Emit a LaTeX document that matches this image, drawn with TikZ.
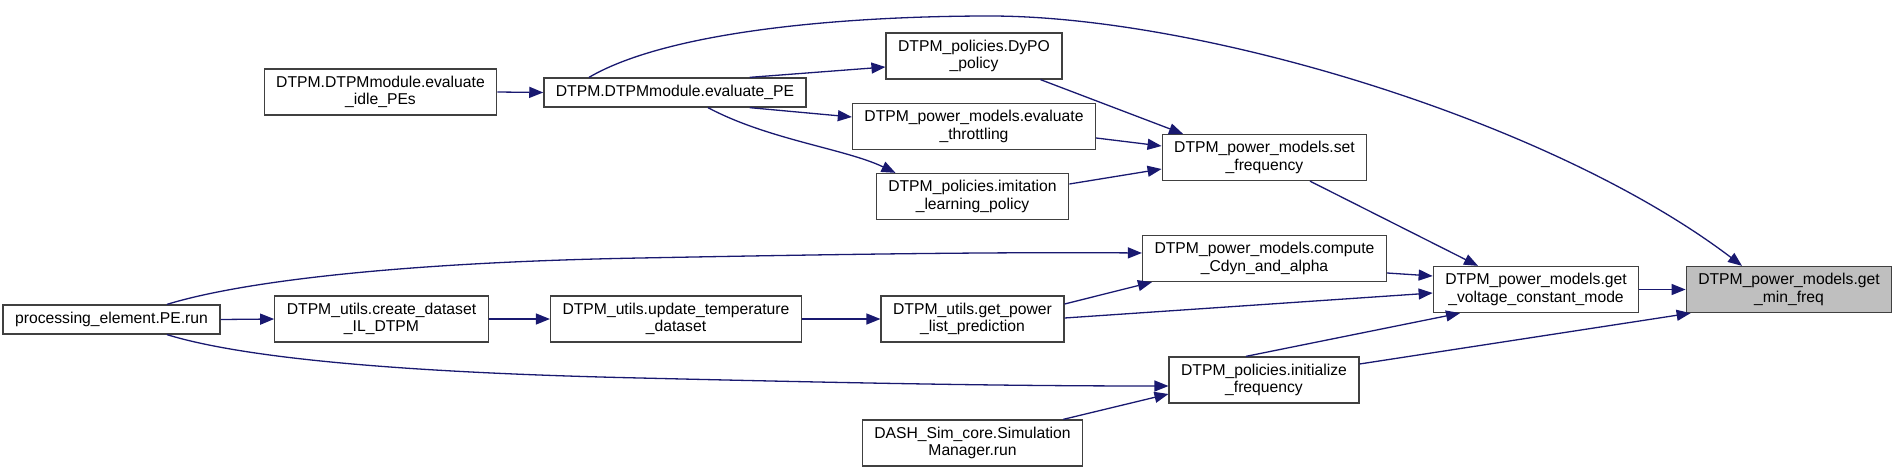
\documentclass[tikz,border=0pt]{standalone}
\usepackage{fontspec}
\setmainfont{Liberation Sans}
\usetikzlibrary{arrows.meta}

\definecolor{edgeblue}{HTML}{191970}
\definecolor{boxline}{HTML}{404040}
\definecolor{focusgray}{HTML}{BFBFBF}

\tikzset{
    fn/.style={draw=boxline, line width=1.3pt, fill=white, inner xsep=12pt, inner ysep=0pt,
        align=center, font=\fontsize{15.7}{17.5}\selectfont},
    one/.style={fn, minimum height=29pt},
    two/.style={fn, minimum height=46pt},
    call/.style={draw=edgeblue, line width=1.3pt,
        -{Triangle[length=14pt,width=11pt,fill=edgeblue]}}
}

\begin{document}
\begin{tikzpicture}[x=1pt, y=-1pt]
    \useasboundingbox (0,0) rectangle (1897,471);

    % Functions, one column per rank
    \node[two] (idlepes) at (380.5,92) {DTPM.DTPMmodule.evaluate\\\_idle\_PEs};
    \node[one] (evalpe) at (675,92.5) {DTPM.DTPMmodule.evaluate\_PE};
    \node[two] (dypo) at (974,56) {DTPM\_policies.DyPO\\\_policy};
    \node[two] (throttle) at (974,126.5) {DTPM\_power\_models.evaluate\\\_throttling};
    \node[two] (imitation) at (972.5,196.5) {DTPM\_policies.imitation\\\_learning\_policy};
    \node[two] (setfreq) at (1264.5,157.5) {DTPM\_power\_models.set\\\_frequency};
    \node[two] (cdyn) at (1264.5,258.5) {DTPM\_power\_models.compute\\\_Cdyn\_and\_alpha};
    \node[two] (getvolt) at (1536,289.5) {DTPM\_power\_models.get\\\_voltage\_constant\_mode};
    \node[two, fill=focusgray] (minfreq) at (1789,289.5) {DTPM\_power\_models.get\\\_min\_freq};
    \node[two] (initfreq) at (1264,380) {DTPM\_policies.initialize\\\_frequency};
    \node[one] (perun) at (111.5,319.5) {processing\_element.PE.run};
    \node[two] (createds) at (381.5,319) {DTPM\_utils.create\_dataset\\\_IL\_DTPM};
    \node[two] (updtemp) at (676,319) {DTPM\_utils.update\_temperature\\\_dataset};
    \node[two] (powerlist) at (972.5,319) {DTPM\_utils.get\_power\\\_list\_prediction};
    \node[two] (simrun) at (972.5,443) {DASH\_Sim\_core.Simulation\\Manager.run};

    % Straight calls along a row
    \foreach \a/\b in {idlepes/evalpe, getvolt/minfreq, perun/createds, createds/updtemp, updtemp/powerlist} {
        \draw[call] (\a.east) -- (\b.west);
    }

    % Calls out of evaluate_PE
    \draw[call] ([xshift=-57pt]evalpe.north east) -- ([yshift=-11pt]dypo.west);
    \draw[call] ([xshift=-57pt]evalpe.south east) -- ([yshift=9.5pt]throttle.west);
    \draw[call] ([xshift=33pt]evalpe.south) .. controls +(60,32) and +(-50,-24) .. ([xshift=-77pt]imitation.north);
    \draw[call] ([xshift=-86pt]evalpe.north) .. controls (670,30) and (850,16) .. (990,16)
        .. controls (1200,16) and (1550,120) .. ([xshift=-47pt]minfreq.north);

    % Into set_frequency
    \draw[call] ([xshift=-22pt]dypo.south east) -- ([xshift=-81.5pt]setfreq.north);
    \draw[call] ([yshift=-11.5pt]throttle.east) -- ([yshift=11.5pt]setfreq.west);
    \draw[call] ([yshift=12.5pt]imitation.east) -- ([yshift=-11.5pt]setfreq.west);

    % Into get_voltage_constant_mode
    \draw[call] ([xshift=45.5pt]setfreq.south) -- ([xshift=-58pt]getvolt.north);
    \draw[call] ([yshift=-14.5pt]cdyn.east) -- ([yshift=13.5pt]getvolt.west);
    \draw[call] ([yshift=1pt]powerlist.east) -- ([yshift=-3.5pt]getvolt.west);
    \draw[call] ([xshift=-18pt]initfreq.north) -- ([xshift=-76pt]getvolt.south);

    % The rest
    \draw[call] ([yshift=15pt]powerlist.east) -- ([xshift=10pt]cdyn.south west);
    \draw[call] ([yshift=16pt]initfreq.east) -- ([xshift=5pt]minfreq.south west);
    \draw[call] ([xshift=-20pt]simrun.north east) -- ([yshift=-14pt]initfreq.west);
    \draw[call] ([xshift=55.5pt]perun.north) .. controls (250,279) and (420,262) .. (640,258)
        .. controls (850,254) and (1000,252) .. ([yshift=5.5pt]cdyn.west);
    \draw[call] ([xshift=55.5pt]perun.south) .. controls (250,360) and (420,373) .. (640,378)
        .. controls (850,383) and (1000,386) .. ([yshift=-6pt]initfreq.west);
\end{tikzpicture}
\end{document}
